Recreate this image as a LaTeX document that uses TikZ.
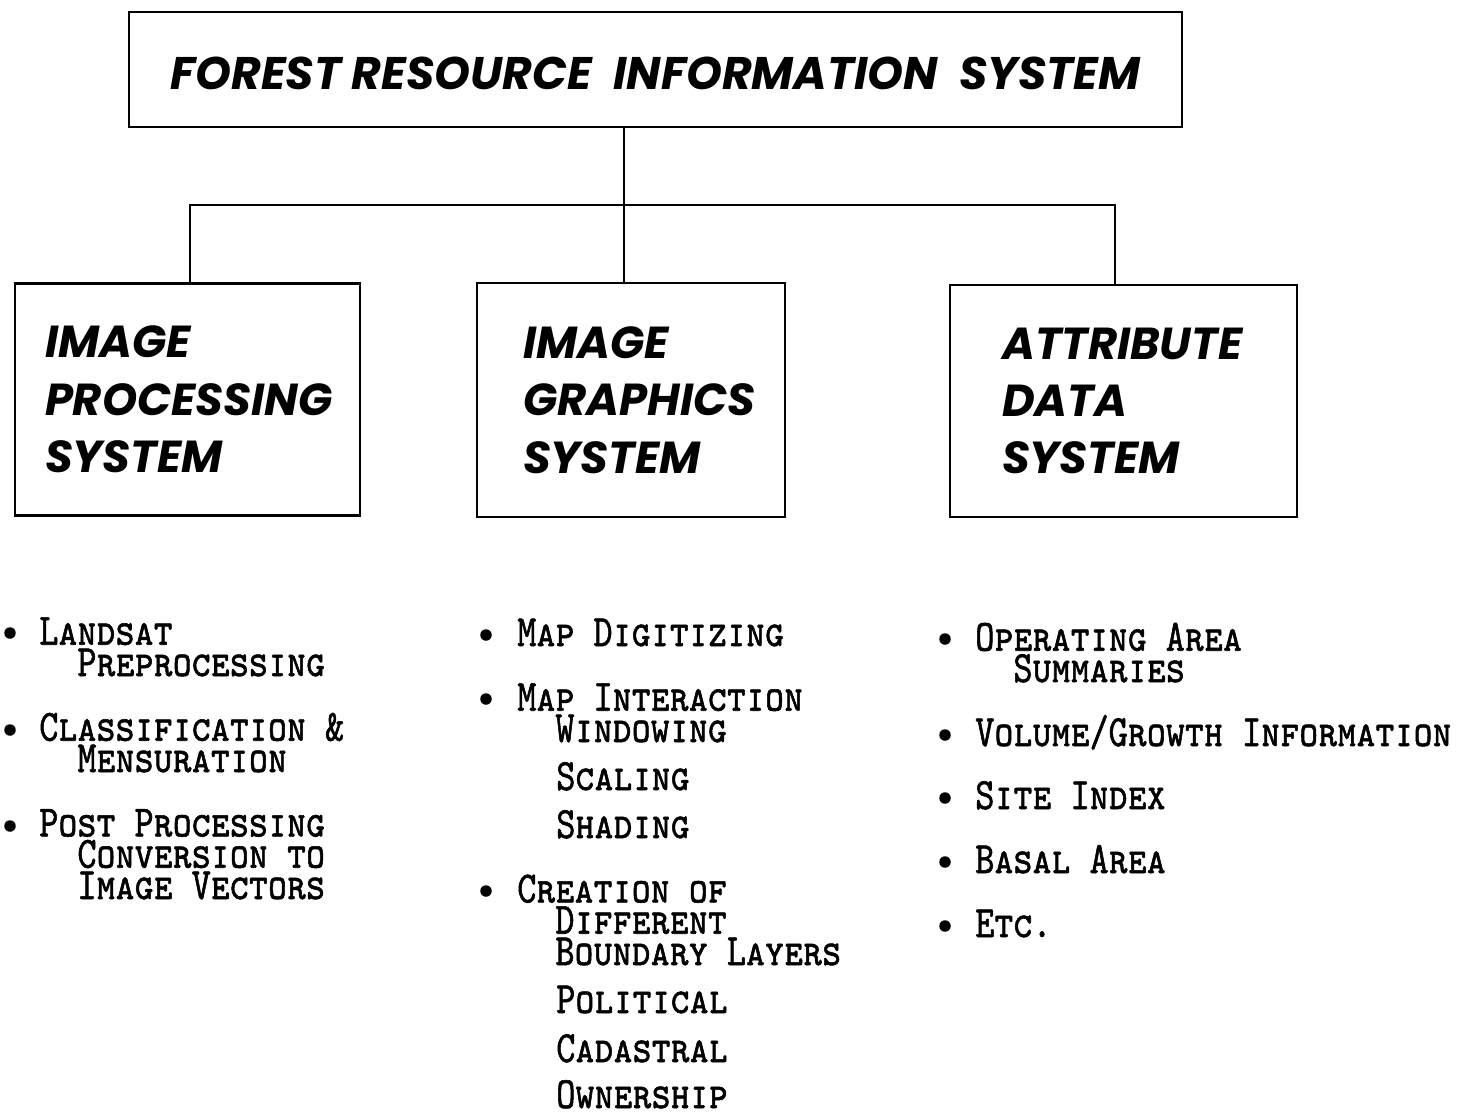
\documentclass[tikz,border=0pt]{standalone}
\usepackage{fontspec}
\newfontfamily\headfont{Poppins}
\newfontfamily\listfont{lmmonocaps10-regular}[Extension=.otf, FakeStretch=0.81, FakeBold=1.2]
\usepackage{tikz}
\usetikzlibrary{positioning}
\newcommand\contind{\phantom{xx}}
\newcommand\listsize{\listfont\fontsize{25.5}{17.8}\selectfont\lineskiplimit=-50pt\relax}
\tikzset{sysbox/.style={draw=black, line width=1.5pt, align=left, inner sep=0pt,
  font=\headfont\bfseries\itshape\fontsize{25.5}{32.6}\selectfont}}
\tikzset{item/.style={anchor=base west, inner sep=0pt, align=left, font=\listsize}}
\tikzset{dot/.style={circle, fill=black, inner sep=0pt, minimum size=0.23cm}}
\tikzset{link/.style={draw=black, line width=1.5pt}}

\begin{document}
\begin{tikzpicture}[x=0.02cm, y=-0.02cm]
  \useasboundingbox (0,0) rectangle (1478,1116);
  % Boxes
  \node[sysbox, minimum width=21.06cm, minimum height=2.3cm, align=center,
    font=\headfont\bfseries\itshape\fontsize{26}{32}\selectfont,
    text height=0.82cm, text depth=0pt] (frs)
    at (655.5,69.5) {FOREST RESOURCE\ \ INFORMATION\ \ SYSTEM};
  \node[sysbox, minimum width=6.9cm, minimum height=4.64cm, text width=5.7cm] (ips)
    at (187.5,399.5) {IMAGE\\PROCESSING\\SYSTEM};
  \node[sysbox, minimum width=6.16cm, minimum height=4.68cm, text width=4.32cm] (igs)
    at (631,400) {IMAGE\\GRAPHICS\\SYSTEM};
  \node[sysbox, minimum width=6.94cm, minimum height=4.64cm, text width=4.86cm] (ads)
    at (1123.5,401) {ATTRIBUTE\\DATA\\SYSTEM};
  % Connectors
  \coordinate (lknot) at (190,205);
  \coordinate (mknot) at (624,205);
  \coordinate (rknot) at (1115,205);
  \draw[link] (frs.south -| mknot) -- (igs.north -| mknot);
  \draw[link] (ips.north -| lknot) -- (lknot) -- (rknot) -- (ads.north -| rknot);
  % Image processing items (multi-line nodes sit on their last line)
  \node[dot] (ipd1) at (10,633) {};
  \node[item] (ip1) at (39,676) {Landsat\\\contind Preprocessing};
  \node[dot] (ipd2) at (10,730) {};
  \node[item] (ip2) at (39,772) {Classification \&\\\contind Mensuration};
  \node[dot] (ipd3) at (10,826) {};
  \node[item] (ip3) at (39,899) {Post Processing\\\contind Conversion to\\\contind Image Vectors};
  % Image graphics items
  \node[dot] (igd1) at (486,635) {};
  \node[item] (ig1) at (517,646) {Map Digitizing};
  \node[dot] (igd2) at (486,699) {};
  \node[item] (ig2) at (517,742) {Map Interaction\\\contind Windowing};
  \node[item] (ig2c) at (556,790) {Scaling};
  \node[item] (ig2d) at (556,838) {Shading};
  \node[dot] (igd3) at (486,891) {};
  \node[item] (ig3) at (517,965) {Creation of\\\contind Different\\\contind Boundary Layers};
  \node[item] (ig3d) at (556,1013) {Political};
  \node[item] (ig3e) at (556,1062) {Cadastral};
  \node[item] (ig3f) at (556,1108) {Ownership};
  % Attribute data items
  \node[dot] (add1) at (945,639) {};
  \node[item] (ad1) at (975,682) {Operating Area\\\contind Summaries};
  \node[dot] (add2) at (945,735) {};
  \node[item] (ad2) at (975,746) {Volume/Growth Information};
  \node[dot] (add3) at (945,798) {};
  \node[item] (ad3) at (975,809) {Site Index};
  \node[dot] (add4) at (945,862) {};
  \node[item] (ad4) at (975,873) {Basal Area};
  \node[dot] (add5) at (945,926) {};
  \node[item] (ad5) at (975,937) {Etc.};
\end{tikzpicture}
\end{document}
